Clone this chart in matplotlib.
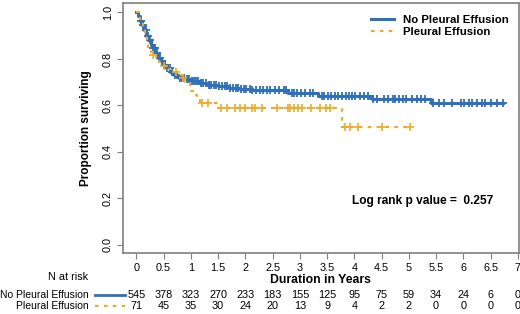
import matplotlib
matplotlib.use("Agg")
import matplotlib.pyplot as plt
import numpy as np

plt.rcParams["font.family"] = ["Liberation Sans", "DejaVu Sans"]

BLUE = "#2d6fc0"
ORANGE = "#f0aa28"
GRAY = "#7f7f7f"

# Kaplan-Meier step values
no_pe_time = [0, 0.03, 0.06, 0.1, 0.14, 0.18, 0.22, 0.26, 0.3, 0.35, 0.4, 0.45, 0.5, 0.56,
              0.62, 0.7, 0.78, 0.9, 1.0, 1.15, 1.3, 1.5, 1.7, 1.9, 2.1, 2.78, 3.33, 4.32, 5.4, 6.72]
no_pe_surv = [1.0, 0.985, 0.965, 0.945, 0.925, 0.9, 0.88, 0.86, 0.845, 0.825, 0.805, 0.79, 0.775, 0.76,
              0.745, 0.73, 0.72, 0.712, 0.705, 0.698, 0.69, 0.683, 0.677, 0.672, 0.666, 0.652, 0.64, 0.627, 0.612, 0.612]

pe_time = [0, 0.04, 0.07, 0.1, 0.13, 0.16, 0.19, 0.22, 0.26, 0.3, 0.36, 0.42, 0.5, 0.58,
           0.66, 0.78, 0.85, 0.9, 0.98, 1.05, 1.12, 1.16, 1.5, 3.77, 5.02]
pe_surv = [1.0, 0.986, 0.972, 0.958, 0.93, 0.9, 0.87, 0.845, 0.83, 0.815, 0.8, 0.785, 0.77, 0.757,
           0.745, 0.73, 0.716, 0.7, 0.66, 0.645, 0.625, 0.61, 0.588, 0.509, 0.509]

no_pe_cens = [0.08, 0.12, 0.17, 0.21, 0.25, 0.3, 0.34, 0.38, 0.43, 0.47, 0.52, 0.57, 0.61, 0.66,
              0.71, 0.75, 0.8, 0.84, 0.88, 0.93, 0.97, 1.02, 1.06, 1.1, 1.14, 1.19, 1.23, 1.28,
              1.33, 1.37, 1.42, 1.47, 1.52, 1.57, 1.62, 1.67, 1.72, 1.77, 1.82, 1.87, 1.92, 1.97,
              2.02, 2.08, 2.13, 2.2, 2.27, 2.33, 2.4, 2.45, 2.55, 2.62, 2.7, 2.75, 2.85, 2.9,
              2.95, 3.02, 3.1, 3.18, 3.25, 3.4, 3.45, 3.52, 3.58, 3.65, 3.7, 3.78, 3.85, 3.9,
              3.95, 4.02, 4.1, 4.18, 4.25, 4.35, 4.42, 4.55, 4.62, 4.7, 4.75, 4.82, 4.9, 4.95,
              5.05, 5.15, 5.22, 5.3, 5.45, 5.55, 5.65, 5.8, 5.95, 6.02, 6.1, 6.15, 6.25, 6.35,
              6.4, 6.5, 6.62, 6.72]
pe_cens = [0.3, 0.5, 0.72, 0.86, 1.2, 1.32, 1.55, 1.66, 1.81, 1.9, 2.0, 2.12, 2.18, 2.3, 2.58,
           2.78, 2.82, 2.9, 2.96, 3.04, 3.2, 3.37, 3.48, 3.55, 3.83, 3.92, 4.07, 4.5, 5.02]

risk_times = [0, 0.5, 1, 1.5, 2, 2.5, 3, 3.5, 4, 4.5, 5, 5.5, 6, 6.5, 7]
risk_no_pe = [545, 378, 323, 270, 233, 183, 155, 125, 95, 75, 59, 34, 24, 6, 0]
risk_pe = [71, 45, 35, 30, 24, 20, 13, 9, 4, 2, 2, 0, 0, 0, 0]
y_ticks = [0.0, 0.2, 0.4, 0.6, 0.8, 1.0]


def surv_at(times, surv, t):
    idx = np.searchsorted(times, t, side="right") - 1
    return np.asarray(surv)[idx]


fig = plt.figure(figsize=(5.2, 3.14), dpi=100)
ax = fig.add_axes([0.236, 0.194, 0.762, 0.796])

ax.step(no_pe_time, no_pe_surv, where="post", color=BLUE, lw=2.2, label="No Pleural Effusion")
ax.plot(no_pe_cens, surv_at(no_pe_time, no_pe_surv, no_pe_cens), "+", color=BLUE,
        ms=6, mew=1.3)
ax.step(pe_time, pe_surv, where="post", color=ORANGE, lw=1.6, dashes=(1.6, 2.4),
        label="Pleural Effusion")
ax.plot(pe_cens, surv_at(pe_time, pe_surv, pe_cens), "+", color=ORANGE, ms=6, mew=1.2)

ax.set_xlim(-0.25, 7.02)
ax.set_ylim(-0.035, 1.04)
ax.set_xticks(risk_times)
ax.set_xticklabels(["%g" % t for t in risk_times])
ax.set_yticks(y_ticks)
ax.set_yticklabels(["%.1f" % v for v in y_ticks], rotation=90, va="center")
ax.tick_params(labelsize=7.8, length=4, width=0.8, color=GRAY, pad=3)
for s in ax.spines.values():
    s.set_color(GRAY)
    s.set_linewidth(1.2)

ax.set_ylabel("Proportion surviving", fontsize=8.5, fontweight="bold", labelpad=8)
ax.set_xlabel("Duration in Years", fontsize=8.8, fontweight="bold", labelpad=1)

leg = ax.legend(loc="upper right", frameon=False, prop={"size": 8.2, "weight": "bold"},
                handlelength=2.0, handletextpad=0.8, labelspacing=0.15,
                bbox_to_anchor=(0.995, 0.985), borderaxespad=0.3)

ax.text(0.935, 0.21, "Log rank p value =  0.257", transform=ax.transAxes, ha="right",
        va="center", fontsize=8.6, fontweight="bold")

# number at risk table
fig.text(88 / 520, 1 - 277 / 314, "N at risk", ha="right", va="center", fontsize=7.8)
rows = [("No Pleural Effusion", risk_no_pe, 295, BLUE, "-", 2.0),
        ("Pleural Effusion", risk_pe, 306, ORANGE, (0, (1.6, 2.4)), 1.6)]
for name, counts, ypx, col, ls, lw in rows:
    yf = 1 - ypx / 314
    fig.text(89 / 520, yf, name, ha="right", va="center", fontsize=7.5)
    fig.add_artist(plt.Line2D([95 / 520, 125 / 520], [yf, yf], color=col, lw=lw, ls=ls))
    for t, n in zip(risk_times, counts):
        xf = fig.transFigure.inverted().transform(ax.transData.transform((t, 0)))[0]
        fig.text(xf, yf, str(n), ha="center", va="center", fontsize=7.8)

fig.savefig("out.png", dpi=100)
